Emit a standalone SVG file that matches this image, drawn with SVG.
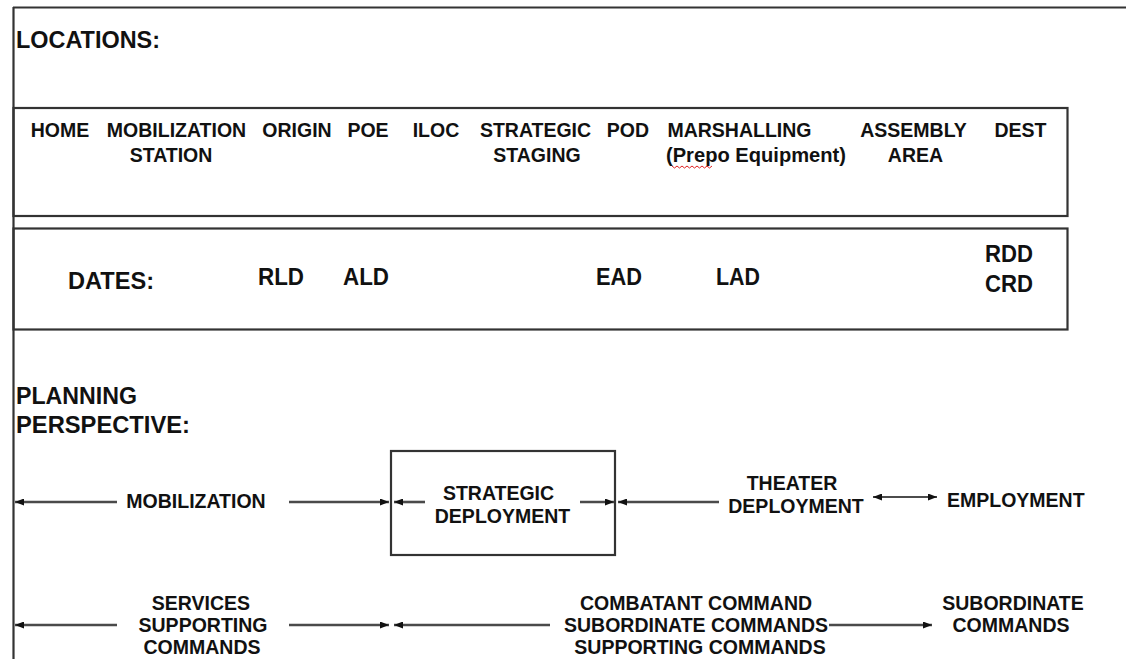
<svg xmlns="http://www.w3.org/2000/svg" width="1126" height="659" viewBox="0 0 1126 659">
<style>
.frame{fill:none;stroke:#333;stroke-width:2.2}
.t{font-family:"Liberation Sans",Arial,sans-serif;font-weight:bold;fill:#111}
.h{font-size:23px}
.l{font-size:19.5px;text-anchor:middle}
.d{font-size:23px}
.c{stroke:#4a4a4a;stroke-width:2.6;fill:none}
.thin{stroke:#111;stroke-width:1.6;fill:none}
</style>
<defs>
<marker id="ah" viewBox="0 0 9 7" refX="9" refY="3.5" markerWidth="9" markerHeight="7" markerUnits="userSpaceOnUse" orient="auto-start-reverse">
<path d="M0,0 L9,3.5 L0,7 z" fill="#111"/>
</marker>
</defs>
<rect width="1126" height="659" fill="#fff"/>
<g id="frame">
<line class="frame" x1="13" y1="7.5" x2="1126" y2="7.5"/>
<line class="frame" x1="13.5" y1="7" x2="13.5" y2="659"/>
</g>
<g id="locations-title"><text class="t h" x="16" y="48" textLength="144" lengthAdjust="spacingAndGlyphs">LOCATIONS:</text></g>
<g id="locations-box">
<rect class="frame" x="13.5" y="108" width="1054" height="108"/>
<text class="t l" x="60" y="137">HOME</text>
<text class="t l" x="176.5" y="137">MOBILIZATION</text>
<text class="t l" x="171" y="162">STATION</text>
<text class="t l" x="297" y="137">ORIGIN</text>
<text class="t l" x="368" y="137">POE</text>
<text class="t l" x="436" y="137">ILOC</text>
<text class="t l" x="535.5" y="137">STRATEGIC</text>
<text class="t l" x="537" y="162">STAGING</text>
<text class="t l" x="628" y="137">POD</text>
<text class="t l" x="739.5" y="137">MARSHALLING</text>
<text class="t l" x="756" y="162" textLength="180" lengthAdjust="spacingAndGlyphs">(Prepo Equipment)</text>
<path d="M672,166 l2.5,2 l2.5,-2 l2.5,2 l2.5,-2 l2.5,2 l2.5,-2 l2.5,2 l2.5,-2 l2.5,2 l2.5,-2 l2.5,2 l2.5,-2 l2.5,2 l2.5,-2 l2.5,2 l2.5,-2" fill="none" stroke="#e02020" stroke-width="1"/>
<text class="t l" x="913.5" y="137">ASSEMBLY</text>
<text class="t l" x="915.5" y="162">AREA</text>
<text class="t l" x="1020.5" y="137">DEST</text>
</g>
<g id="dates-box">
<rect class="frame" x="13.5" y="228.5" width="1054" height="101"/>
<text class="t d" x="68" y="289" textLength="86" lengthAdjust="spacingAndGlyphs">DATES:</text>
<text class="t d" x="258" y="285" textLength="46" lengthAdjust="spacingAndGlyphs">RLD</text>
<text class="t d" x="343" y="285" textLength="46" lengthAdjust="spacingAndGlyphs">ALD</text>
<text class="t d" x="596" y="285" textLength="46" lengthAdjust="spacingAndGlyphs">EAD</text>
<text class="t d" x="716" y="285" textLength="44" lengthAdjust="spacingAndGlyphs">LAD</text>
<text class="t d" x="985" y="262" textLength="48" lengthAdjust="spacingAndGlyphs">RDD</text>
<text class="t d" x="985" y="292" textLength="48" lengthAdjust="spacingAndGlyphs">CRD</text>
</g>
<g id="planning-title">
<text class="t h" x="16" y="404" textLength="121" lengthAdjust="spacingAndGlyphs">PLANNING</text>
<text class="t h" x="16" y="433" textLength="174" lengthAdjust="spacingAndGlyphs">PERSPECTIVE:</text>
</g>
<g id="mobilization"><text class="t l" x="196" y="508">MOBILIZATION</text></g>
<g id="strategic-deployment">
<rect class="frame" x="391" y="451" width="224" height="104"/>
<text class="t l" x="498.5" y="500">STRATEGIC</text>
<text class="t l" x="502.5" y="523">DEPLOYMENT</text>
</g>
<g id="theater-deployment">
<text class="t l" x="792" y="490">THEATER</text>
<text class="t l" x="796" y="513">DEPLOYMENT</text>
</g>
<g id="employment"><text class="t" style="font-size:19.5px" x="947" y="507">EMPLOYMENT</text></g>
<g id="services">
<text class="t l" x="201" y="610">SERVICES</text>
<text class="t l" x="203" y="632">SUPPORTING</text>
<text class="t l" x="202" y="654">COMMANDS</text>
</g>
<g id="combatant">
<text class="t l" x="696" y="610">COMBATANT COMMAND</text>
<text class="t l" x="696" y="632">SUBORDINATE COMMANDS</text>
<text class="t l" x="700" y="654">SUPPORTING COMMANDS</text>
</g>
<g id="subordinate">
<text class="t l" x="1013" y="610">SUBORDINATE</text>
<text class="t l" x="1011" y="632">COMMANDS</text>
</g>
<g id="connectors">
<line class="c" x1="15" y1="502" x2="117" y2="502" marker-start="url(#ah)"/>
<line class="c" x1="289" y1="502" x2="389" y2="502" marker-end="url(#ah)"/>
<line class="c" x1="394" y1="502" x2="425" y2="502" marker-start="url(#ah)"/>
<line class="c" x1="580" y1="502" x2="614" y2="502" marker-end="url(#ah)"/>
<line class="c" x1="618" y1="502" x2="719" y2="502" marker-start="url(#ah)"/>
<line class="thin" x1="873" y1="497" x2="937" y2="497" marker-start="url(#ah)" marker-end="url(#ah)"/>
<line class="c" x1="15" y1="625" x2="117" y2="625" marker-start="url(#ah)"/>
<line class="c" x1="289" y1="625" x2="389" y2="625" marker-end="url(#ah)"/>
<line class="c" x1="394" y1="625" x2="550" y2="625" marker-start="url(#ah)"/>
<line class="c" x1="829" y1="625" x2="932" y2="625" marker-end="url(#ah)"/>
</g>
</svg>
